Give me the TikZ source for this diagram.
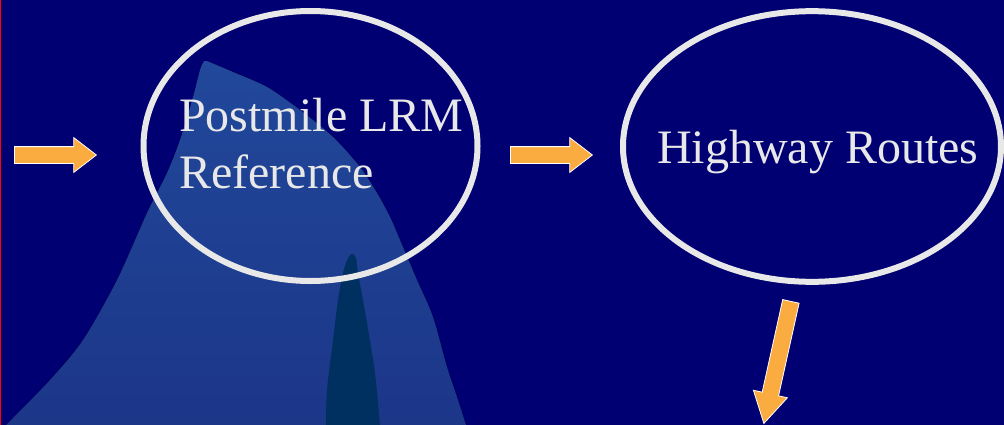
\documentclass[tikz,border=0pt]{standalone}
\usepackage{fontspec}
\setmainfont{Liberation Serif}
\usetikzlibrary{shapes.geometric,shapes.arrows}
\definecolor{bgnavy}{RGB}{0,0,115}
\definecolor{sailtop}{RGB}{33,72,155}
\definecolor{sailbot}{RGB}{28,54,136}
\definecolor{spike}{RGB}{0,48,96}
\definecolor{ovalgray}{RGB}{232,232,232}
\definecolor{arroworange}{RGB}{250,172,64}
\begin{document}
\begin{tikzpicture}[x=0.75pt,y=-0.75pt]
        \tikzset{
            oval/.style={draw=ovalgray,ellipse,line width=4.5pt,inner sep=0pt},
            ovaltext/.style={text=ovalgray,inner sep=0pt,font=\fontsize{36}{43}\selectfont},
            blockarrow/.style={single arrow,fill=arroworange,draw=white,line width=0.6pt,anchor=tail,
                inner xsep=0pt,inner ysep=6pt,single arrow head extend=6.75pt,single arrow tip angle=75,
                minimum height=61.5pt}
        }
        \useasboundingbox (0,0) rectangle (1004,425);
        \fill[bgnavy] (0,0) rectangle (1004,425);
        \fill[red] (0,0) rectangle (1.5,425);
        \fill[top color=sailtop,bottom color=sailbot] plot[smooth,tension=0.5] coordinates {(6,425) (50,380) (83,340) (117,280) (147,213) (167,173) (180,140) (193,97) (200,70) (204,61)} -- plot[smooth,tension=0.5] coordinates {(207,61) (233,72) (267,87) (300,110) (333,137) (360,167) (377,193) (390,217) (400,240) (417,280) (433,317) (447,367) (457,397) (466,425)} -- cycle;
        \fill[spike] plot[smooth,tension=0.5] coordinates {(326,425) (327,390) (333,340) (338,300) (343,273) (348,258) (352,254) (356,258) (358,273) (363,300) (367,323) (375,373) (380,425)} -- cycle;
        \node[oval,minimum width=250.5pt,minimum height=202.5pt] (pm) at (310.5,146) {};
        \node[oval,minimum width=283.5pt,minimum height=203pt] (hw) at (812,146.5) {};
        \node[ovaltext,anchor=base west] (pmtop) at (179,131) {Postmile LRM};
        \node[ovaltext,anchor=base west] (pmbot) at (179,188) {Reference};
        \node[ovaltext,anchor=base west] (hwtext) at (657,163) {Highway Routes};
        \node[blockarrow] (arrin) at (14,155) {};
        \node[blockarrow] (arrmid) at (510,155) {};
        \node[blockarrow,rotate=257.5,minimum height=93.75pt,single arrow tip angle=60] (arrdown) at (791,301) {};
\end{tikzpicture}
\end{document}
